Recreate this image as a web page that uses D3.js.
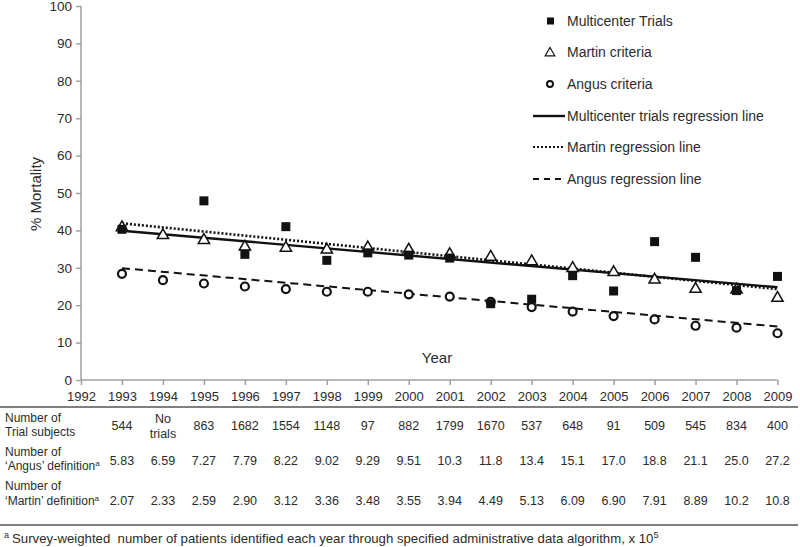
<!DOCTYPE html>
<html><head><meta charset="utf-8">
<script src="https://cdn.jsdelivr.net/npm/d3@7"></script>
<style>body{margin:0;background:#fff}svg{display:block}text{font-family:"Liberation Sans",Arial,sans-serif;fill:#2b2b2b}</style>
</head><body><svg id="c" width="800" height="547"></svg>
<script>
const years = [1993,1994,1995,1996,1997,1998,1999,2000,2001,2002,2003,2004,2005,2006,2007,2008,2009];
const xTicks = [1992,1993,1994,1995,1996,1997,1998,1999,2000,2001,2002,2003,2004,2005,2006,2007,2008,2009];
const yTicks = [0,10,20,30,40,50,60,70,80,90,100];
const trials = [40.3,null,47.9,33.6,41.0,32.0,34.0,33.4,32.6,20.4,21.6,27.9,23.8,37.0,32.8,23.9,27.7];
const martin = [40.8,38.7,37.4,35.6,35.3,34.8,35.4,34.8,33.6,32.9,31.7,29.9,28.8,26.8,24.3,24.1,21.9];
const angus  = [28.4,26.7,25.8,25.0,24.3,23.6,23.6,22.9,22.3,20.9,19.5,18.3,17.1,16.2,14.5,14.0,12.5];
const regYears = [1993,2009];
const trialsReg = [39.9,24.8];
const martinReg = [41.9,24.3];
const angusReg  = [29.9,14.3];
const trialSubjects = ["544","No|trials","863","1682","1554","1148","97","882","1799","1670","537","648","91","509","545","834","400"];
const angusCounts = ["5.83","6.59","7.27","7.79","8.22","9.02","9.29","9.51","10.3","11.8","13.4","15.1","17.0","18.8","21.1","25.0","27.2"];
const martinCounts = ["2.07","2.33","2.59","2.90","3.12","3.36","3.48","3.55","3.94","4.49","5.13","6.09","6.90","7.91","8.89","10.2","10.8"];
const legendItems = ["Multicenter Trials","Martin criteria","Angus criteria","Multicenter trials regression line","Martin regression line","Angus regression line"];

const svg = d3.select("#c");
const x = d3.scaleLinear().domain([1992,2009]).range([81,777.5]);
const y = d3.scaleLinear().domain([0,100]).range([380,6]);
const axisColor = "#a0a0a0";

// axes
const yAx = svg.append("g").attr("transform","translate(81,0)")
  .call(d3.axisLeft(y).tickValues(yTicks).tickSize(5).tickPadding(4).tickFormat(d3.format("d")));
const xAx = svg.append("g").attr("transform","translate(0,380)")
  .call(d3.axisBottom(x).tickValues(xTicks).tickSize(5).tickPadding(7).tickFormat(d3.format("d")));
[yAx,xAx].forEach(g=>{
  g.selectAll("path,line").attr("stroke",axisColor).attr("stroke-width",1.5);
  g.selectAll("text").attr("font-family","Liberation Sans, Arial, sans-serif").attr("font-size",13).attr("fill","#2b2b2b");
});
yAx.selectAll("text").attr("font-size",13.5);
yAx.select(".domain").attr("d","M0,380V6");
xAx.select(".domain").attr("d","M81,0H777.5");

svg.append("text").attr("transform","translate(41,194) rotate(-90)").attr("text-anchor","middle")
  .attr("font-size",15).text("% Mortality");
svg.append("text").attr("x",437).attr("y",363).attr("text-anchor","middle").attr("font-size",15).text("Year");

// regression lines
const line = d3.line().x(d=>x(d[0])).y(d=>y(d[1]));
function regLine(vals, dash, w){
  svg.append("path").datum(regYears.map((yr,i)=>[yr,vals[i]])).attr("d",line)
    .attr("fill","none").attr("stroke","#111").attr("stroke-width",w).attr("stroke-dasharray",dash);
}
regLine(angusReg,"8,5",2);
regLine(martinReg,"2,2",2.6);
regLine(trialsReg,null,2.4);

// markers
const sq = 9;
svg.append("g").selectAll("circle").data(years.map((yr,i)=>[yr,angus[i]])).join("circle")
  .attr("cx",d=>x(d[0])).attr("cy",d=>y(d[1])).attr("r",4).attr("fill","#fff").attr("stroke","#111").attr("stroke-width",2.2);
const tri = d3.symbol().type(d3.symbolTriangle).size(55);
svg.append("g").selectAll("path").data(years.map((yr,i)=>[yr,martin[i]])).join("path")
  .attr("transform",d=>`translate(${x(d[0])},${y(d[1])})`).attr("d",tri).attr("fill","#fff").attr("stroke","#111").attr("stroke-width",1.5);
svg.append("g").selectAll("rect").data(years.map((yr,i)=>[yr,trials[i]]).filter(d=>d[1]!=null)).join("rect")
  .attr("x",d=>x(d[0])-sq/2).attr("y",d=>y(d[1])-sq/2).attr("width",sq).attr("height",sq).attr("fill","#111");

// legend
const lgY = [21,52,84,116,147,179];
const lg = svg.append("g");
lg.append("rect").attr("x",547).attr("y",lgY[0]-3.5).attr("width",7).attr("height",7).attr("fill","#111");
lg.append("path").attr("transform",`translate(550,${lgY[1]+1})`).attr("d",d3.symbol().type(d3.symbolTriangle).size(40)).attr("fill","#fff").attr("stroke","#111").attr("stroke-width",1.2);
lg.append("circle").attr("cx",550).attr("cy",lgY[2]).attr("r",3).attr("fill","#fff").attr("stroke","#111").attr("stroke-width",2);
[[null,2.4],["2,2",2.2],["6,5",2]].forEach((s,i)=>{
  lg.append("line").attr("x1",533).attr("x2",565).attr("y1",lgY[3+i]).attr("y2",lgY[3+i])
    .attr("stroke","#111").attr("stroke-width",s[1]).attr("stroke-dasharray",s[0]);
});
lg.selectAll("text").data(legendItems).join("text").attr("x",567).attr("y",(d,i)=>lgY[i]+5)
  .attr("font-size",14).text(d=>d);

// table
svg.append("line").attr("x1",0).attr("x2",798).attr("y1",407).attr("y2",407).attr("stroke","#555").attr("stroke-width",1.5);
svg.append("line").attr("x1",0).attr("x2",798).attr("y1",525).attr("y2",525).attr("stroke","#555").attr("stroke-width",1.5);
const tbl = svg.append("g").attr("font-size",12);
function rowLabel(l1,l2,b1,b2){
  tbl.append("text").attr("x",5).attr("y",b1).text(l1);
  const t = tbl.append("text").attr("x",5).attr("y",b2);
  t.append("tspan").text(l2);
  if (l2.indexOf("definition")>=0) t.append("tspan").attr("font-size",8).attr("dy",-4).text("a");
}
rowLabel("Number of","Trial subjects",421.5,435.5);
rowLabel("Number of","\u2018Angus\u2019 definition",455.5,469.5);
rowLabel("Number of","\u2018Martin\u2019 definition",489.5,505);
function rowVals(vals, base){
  tbl.append("g").selectAll("text").data(vals.map((v,i)=>[years[i],v])).join("text")
    .attr("x",d=>x(d[0])).attr("text-anchor","middle").attr("font-size",12.5)
    .each(function(d){
      const parts = d[1].split("|");
      const t = d3.select(this);
      if(parts.length===1){ t.attr("y",base).text(parts[0]); }
      else { t.attr("y",base-7).text(parts[0]);
        d3.select(this.parentNode).append("text").attr("x",x(d[0])).attr("y",base+8).attr("text-anchor","middle").attr("font-size",12.5).text(parts[1]); }
    });
}
rowVals(trialSubjects,429.5);
rowVals(angusCounts,464.5);
rowVals(martinCounts,505);

// footnote
const fn = svg.append("text").attr("x",4).attr("y",543).attr("font-size",13.2);
fn.append("tspan").attr("font-size",9).attr("dy",-5).text("a");
fn.append("tspan").attr("dy",5).attr("dx",3).text("Survey-weighted\u00a0 number of patients identified each year through specified administrative data algorithm, x 10");
fn.append("tspan").attr("font-size",9).attr("dy",-5).text("5");
</script></body></html>
